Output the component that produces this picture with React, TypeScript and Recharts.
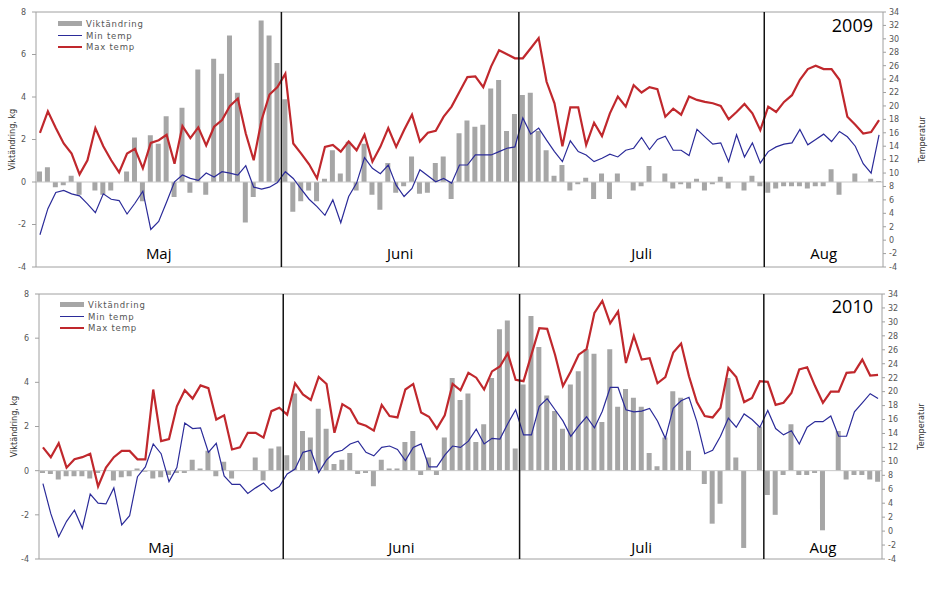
import { Bar, ComposedChart, Label, Line, ReferenceArea, ReferenceLine, XAxis, YAxis } from "recharts"

const months = ["Maj", "Juni", "Juli", "Aug"]
const monthDays = [31, 30, 31, 15]
const leftTicks = [-4, -2, 0, 2, 4, 6, 8]
const rightTicks = [-4, -2, 0, 2, 4, 6, 8, 10, 12, 14, 16, 18, 20, 22, 24, 26, 28, 30, 32, 34]

// 2009
const weight2009 = [
  0.5, 0.7, -0.25, -0.15, 0.3, -0.6, 0, -0.4, -0.6, -0.4, 0, 0.5, 2.1, -0.9, 2.2, 1.8, 3.1, -0.7, 3.5, -0.5,
  5.3, -0.6, 5.8, 5.1, 6.9, 4.2, -1.9, -0.7, 7.6, 6.9, 5.6,
  3.9, -1.4, -0.9, -0.4, -0.9, 0.15, 1.5, 0.4, 1.9, -0.4, 1.8, -0.6, -1.3, 0.9, -0.5, -0.2, 1.2, -0.55, -0.5,
  0.9, 1.2, -0.8, 2.3, 2.9, 2.6, 2.7, 4.4, 4.8, 2.4, 3.2,
  4.1, 4.2, 2.4, 1.5, 0.3, 0.8, -0.4, -0.1, 0.2, -0.8, 0.4, -0.8, 0.4, 0, -0.4, -0.2, 0.75, 0, 0.4, -0.3,
  -0.1, -0.3, 0.15, -0.4, -0.1, 0.25, -0.3, 0, -0.4, 0.3, -0.2,
  -0.5, -0.3, -0.2, -0.2, -0.2, -0.3, -0.2, -0.2, 0.6, -0.6, 0, 0.4, 0, 0.15, 0.05,
]
const minTemp2009 = [
  0.8, 4.7, 7.1, 7.4, 6.9, 6.6, 5.4, 4.1, 6.9, 6.1, 5.9, 3.9, 5.5, 7.3, 1.6, 2.8, 5.7, 8.7, 9.7, 9.2,
  8.9, 10.0, 9.4, 10.2, 10.0, 9.7, 11.1, 7.9, 7.6, 7.9, 8.6,
  10.2, 9.2, 7.6, 6.1, 5.0, 3.7, 6.0, 2.6, 6.5, 8.5, 12.3, 10.7, 9.9, 11.2, 8.2, 6.5, 7.7, 10.5, 9.6,
  8.7, 9.2, 8.5, 11.2, 11.2, 12.7, 12.7, 12.7, 13.2, 13.7, 13.9,
  18.2, 15.8, 16.7, 14.9, 13.2, 11.7, 14.8, 13.2, 12.7, 11.7, 12.2, 12.8, 12.4, 13.4, 13.7, 15.3, 13.5, 15.0, 15.5, 13.4,
  13.4, 12.6, 16.5, 15.4, 14.3, 14.5, 11.7, 15.7, 12.4, 14.5, 11.5,
  13.2, 13.9, 14.3, 14.5, 16.5, 14.2, 15.0, 15.8, 14.7, 16.2, 15.4, 14.0, 11.4, 10.0, 15.7,
]
const maxTemp2009 = [
  16.0, 19.2, 16.7, 14.4, 12.9, 9.8, 11.9, 16.7, 14.0, 11.9, 10.1, 12.9, 13.6, 10.7, 14.5, 14.9, 15.7, 11.4, 17.0, 15.2,
  16.8, 14.1, 16.9, 17.9, 20.0, 21.1, 15.9, 11.9, 17.9, 21.7, 22.8,
  24.8, 14.4, 12.9, 11.3, 9.2, 13.9, 14.2, 13.2, 14.7, 13.4, 15.7, 11.7, 13.9, 16.7, 13.9, 16.4, 18.7, 14.7, 16.0,
  16.3, 18.4, 19.9, 22.1, 24.3, 24.4, 22.8, 25.9, 28.3, 27.7, 27.1,
  27.1, 28.6, 30.1, 23.6, 20.4, 14.0, 19.8, 19.8, 14.2, 17.5, 15.5, 18.9, 21.4, 19.9, 23.1, 22.0, 22.8, 22.5, 18.4, 19.6,
  18.7, 21.4, 20.9, 20.6, 20.4, 20.0, 18.0, 19.1, 20.3, 18.9, 16.4,
  19.9, 19.1, 20.6, 21.6, 23.9, 25.5, 26.0, 25.5, 25.5, 23.9, 18.4, 17.2, 15.9, 16.1, 17.9,
]

// 2010
const weight2010 = [
  -0.1, -0.15, -0.4, -0.25, -0.25, -0.25, -0.35, -0.1, 0, -0.45, -0.3, -0.25, 0.1, -0.05, -0.35, -0.3, -0.2, -0.1, -0.1, 0.5,
  0.1, 0.9, -0.25, 0.4, -0.35, 0, 0, 0.6, -0.45, 1.0, 1.1,
  0.7, 3.5, 1.8, 1.5, 2.8, 1.9, 0.3, 0.5, 0.8, -0.15, -0.1, -0.7, 0.5, 0.1, 0.1, 1.3, 1.8, -0.2, 0.6,
  -0.2, 1.5, 4.2, 3.2, 3.5, 1.3, 2.1, 4.2, 6.4, 6.8, 1.0,
  3.9, 7.0, 5.6, 3.4, 2.7, 1.9, 3.9, 4.5, 5.5, 5.3, 2.2, 5.5, 2.9, 3.7, 3.3, 2.9, 0.8, 0.2, 1.5, 3.6,
  3.3, 0.9, 0, -0.6, -2.4, -1.5, 4.2, 0.6, -3.5, 0, 2.0,
  -1.1, -2.0, -0.2, 2.1, -0.2, -0.2, -0.1, -2.7, 0, 1.8, -0.4, -0.2, -0.2, -0.4, -0.5,
]
const minTemp2010 = [
  6.8, 2.5, -0.8, 1.4, 3.0, 0.4, 5.3, 4.0, 3.9, 6.2, 0.9, 2.2, 7.8, 9.2, 12.5, 11.1, 7.1, 9.1, 15.5, 14.7,
  14.8, 11.3, 12.6, 7.9, 6.7, 6.7, 5.4, 6.2, 6.9, 5.7, 6.4,
  8.2, 8.9, 11.3, 11.6, 8.4, 10.2, 11.3, 11.6, 12.5, 12.9, 11.3, 10.8, 12.0, 12.2, 11.7, 10.1, 12.0, 12.5, 9.2,
  9.2, 10.9, 12.2, 12.0, 12.9, 14.6, 12.5, 13.3, 13.2, 15.4, 17.4,
  13.8, 13.8, 17.9, 19.0, 17.4, 15.8, 13.6, 15.1, 16.4, 14.8, 17.2, 20.6, 20.6, 17.4, 17.1, 17.2, 17.6, 15.8, 13.3, 17.6,
  18.7, 19.2, 15.7, 11.1, 11.6, 13.6, 16.2, 14.9, 16.8, 16.0, 14.9,
  17.3, 14.7, 13.8, 14.4, 12.5, 14.9, 15.7, 15.7, 16.5, 13.6, 13.6, 17.1, 18.4, 19.7, 19.0,
]
const maxTemp2010 = [
  12.0, 10.6, 12.6, 9.1, 10.3, 10.6, 11.1, 6.4, 9.1, 10.6, 11.5, 11.5, 10.3, 10.3, 20.3, 12.9, 13.2, 17.9, 20.2, 19.0,
  20.9, 20.5, 16.0, 16.6, 11.7, 12.0, 14.1, 14.1, 13.4, 17.2, 17.7,
  16.7, 21.2, 19.6, 18.8, 22.1, 21.1, 14.1, 18.2, 17.5, 15.5, 15.1, 14.4, 18.1, 16.5, 16.3, 20.3, 21.1, 17.0, 16.4,
  14.7, 16.6, 21.1, 20.2, 22.7, 22.0, 20.3, 22.9, 23.6, 25.5, 21.7,
  21.5, 25.3, 29.1, 29.0, 25.3, 20.8, 22.9, 25.3, 26.1, 31.3, 33.0, 29.8, 31.5, 24.1, 28.0, 24.6, 24.8, 21.2, 22.1, 25.6,
  26.9, 22.2, 18.5, 16.5, 16.3, 17.7, 23.4, 22.1, 18.5, 19.1, 21.5,
  21.4, 18.1, 18.4, 19.8, 23.2, 23.5, 20.8, 18.4, 20.0, 20.0, 22.7, 22.8, 24.6, 22.3, 22.4,
]

const days = months.flatMap((m, k) => Array.from({ length: monthDays[k] }, (_, d) => `${d + 1} ${m}`))

const barColor = "#a6a6a6"
const minColor = "#2b2b99"
const maxColor = "#c0282d"
const axisColor = "#a0a0a0"
const tickStyle = { fontSize: 8, fill: "#555", fontFamily: "DejaVu Sans" }
const titleFont = "'Liberation Sans Narrow', 'DejaVu Sans Condensed', 'Liberation Sans'"
const labelFont = "'Open Sans', 'Noto Sans', sans-serif"

const legendItems = [
  { label: "Viktändring", color: barColor, h: 5 },
  { label: "Min temp", color: minColor, h: 1.3 },
  { label: "Max temp", color: maxColor, h: 1.5 },
]

interface PanelProps {
  year: string
  weight: number[]
  minTemp: number[]
  maxTemp: number[]
  top: number
  height: number
  marginTop: number
  marginBottom: number
  leftWidth: number
  rightWidth: number
  labelOffset: number
  legendX: number
  legendY: number
  yearY: number
}

function Panel(p: PanelProps) {
  const data = days.map((day, i) => ({
    day,
    weight: p.weight[i],
    minTemp: p.minTemp[i],
    maxTemp: p.maxTemp[i],
  }))
  let start = 0
  const spans = months.map((m, k) => {
    const s = { month: m, first: days[start], last: days[start + monthDays[k] - 1] }
    start += monthDays[k]
    return s
  })

  return (
    <div style={{ position: "absolute", left: 0, top: p.top, width: 928, height: p.height }}>
      <ComposedChart
        width={928}
        height={p.height}
        data={data}
        margin={{ top: p.marginTop, right: 0, bottom: p.marginBottom, left: 0 }}
      >
        <XAxis dataKey="day" hide />
        <YAxis
          yAxisId="left"
          width={p.leftWidth}
          domain={[-4, 8]}
          ticks={leftTicks}
          interval={0}
          allowDataOverflow
          tick={tickStyle}
          tickSize={4}
          tickMargin={6}
          stroke={axisColor}
        >
          <Label
            value="Viktändring, kg"
            angle={-90}
            position="center"
            dx={-6}
            style={{ fontSize: 9, fill: "#333", fontFamily: titleFont }}
          />
        </YAxis>
        <YAxis
          yAxisId="right"
          orientation="right"
          width={p.rightWidth}
          domain={[-4, 34]}
          ticks={rightTicks}
          interval={0}
          allowDataOverflow
          tick={tickStyle}
          tickSize={3}
          tickMargin={3}
          stroke={axisColor}
        >
          <Label
            value="Temperatur"
            angle={-90}
            position="center"
            dx={16}
            style={{ fontSize: 9, fill: "#333", fontFamily: titleFont }}
          />
        </YAxis>
        <ReferenceLine yAxisId="left" y={8} stroke={axisColor} />
        <ReferenceLine yAxisId="left" y={-4} stroke={axisColor} />
        <Bar yAxisId="left" dataKey="weight" fill={barColor} barSize={5} isAnimationActive={false} />
        <ReferenceLine yAxisId="left" y={0} stroke="#c8c8c8" />
        <Line
          yAxisId="right"
          dataKey="minTemp"
          stroke={minColor}
          strokeWidth={1.2}
          dot={false}
          type="linear"
          isAnimationActive={false}
        />
        <Line
          yAxisId="right"
          dataKey="maxTemp"
          stroke={maxColor}
          strokeWidth={2.2}
          dot={false}
          type="linear"
          isAnimationActive={false}
        />
        {spans.map((s) => (
          <ReferenceArea
            key={s.month}
            yAxisId="left"
            x1={s.first}
            x2={s.last}
            fillOpacity={0}
            strokeOpacity={0}
            label={{
              value: s.month,
              position: "insideBottom",
              offset: p.labelOffset,
              fill: "#000",
              fontSize: 15,
              fontWeight: 400,
              fontFamily: labelFont,
            }}
          />
        ))}
        {spans.slice(1).map((s) => (
          <ReferenceLine
            key={`div-${s.month}`}
            yAxisId="left"
            x={s.first}
            position="start"
            stroke="#111"
            strokeWidth={1.5}
          />
        ))}
      </ComposedChart>
      <div style={{ position: "absolute", left: p.legendX, top: p.legendY }}>
        {legendItems.map((it) => (
          <div key={it.label} style={{ display: "flex", alignItems: "center", height: 11.7 }}>
            <span style={{ display: "inline-block", width: 24, height: it.h, background: it.color, marginRight: 4 }} />
            <span style={{ fontSize: 8.5, fontFamily: "DejaVu Sans", color: "#555", letterSpacing: 0.8 }}>{it.label}</span>
          </div>
        ))}
      </div>
      <div
        style={{
          position: "absolute",
          right: 55,
          top: p.yearY,
          fontSize: 18,
          lineHeight: "19px",
          fontWeight: 400,
          fontFamily: labelFont,
          color: "#000",
        }}
      >
        {p.year}
      </div>
    </div>
  )
}

export default function App() {
  return (
    <div style={{ position: "absolute", left: 0, top: 0, width: 928, height: 595, background: "#fff" }}>
      <Panel
        year="2009"
        weight={weight2009}
        minTemp={minTemp2009}
        maxTemp={maxTemp2009}
        top={0}
        height={280}
        marginTop={12}
        marginBottom={13}
        leftWidth={36}
        rightWidth={45}
        labelOffset={8}
        legendX={58}
        legendY={18}
        yearY={16}
      />
      <Panel
        year="2010"
        weight={weight2010}
        minTemp={minTemp2010}
        maxTemp={maxTemp2010}
        top={282}
        height={295}
        marginTop={12}
        marginBottom={18}
        leftWidth={39}
        rightWidth={46}
        labelOffset={6}
        legendX={60}
        legendY={17}
        yearY={15}
      />
    </div>
  )
}
